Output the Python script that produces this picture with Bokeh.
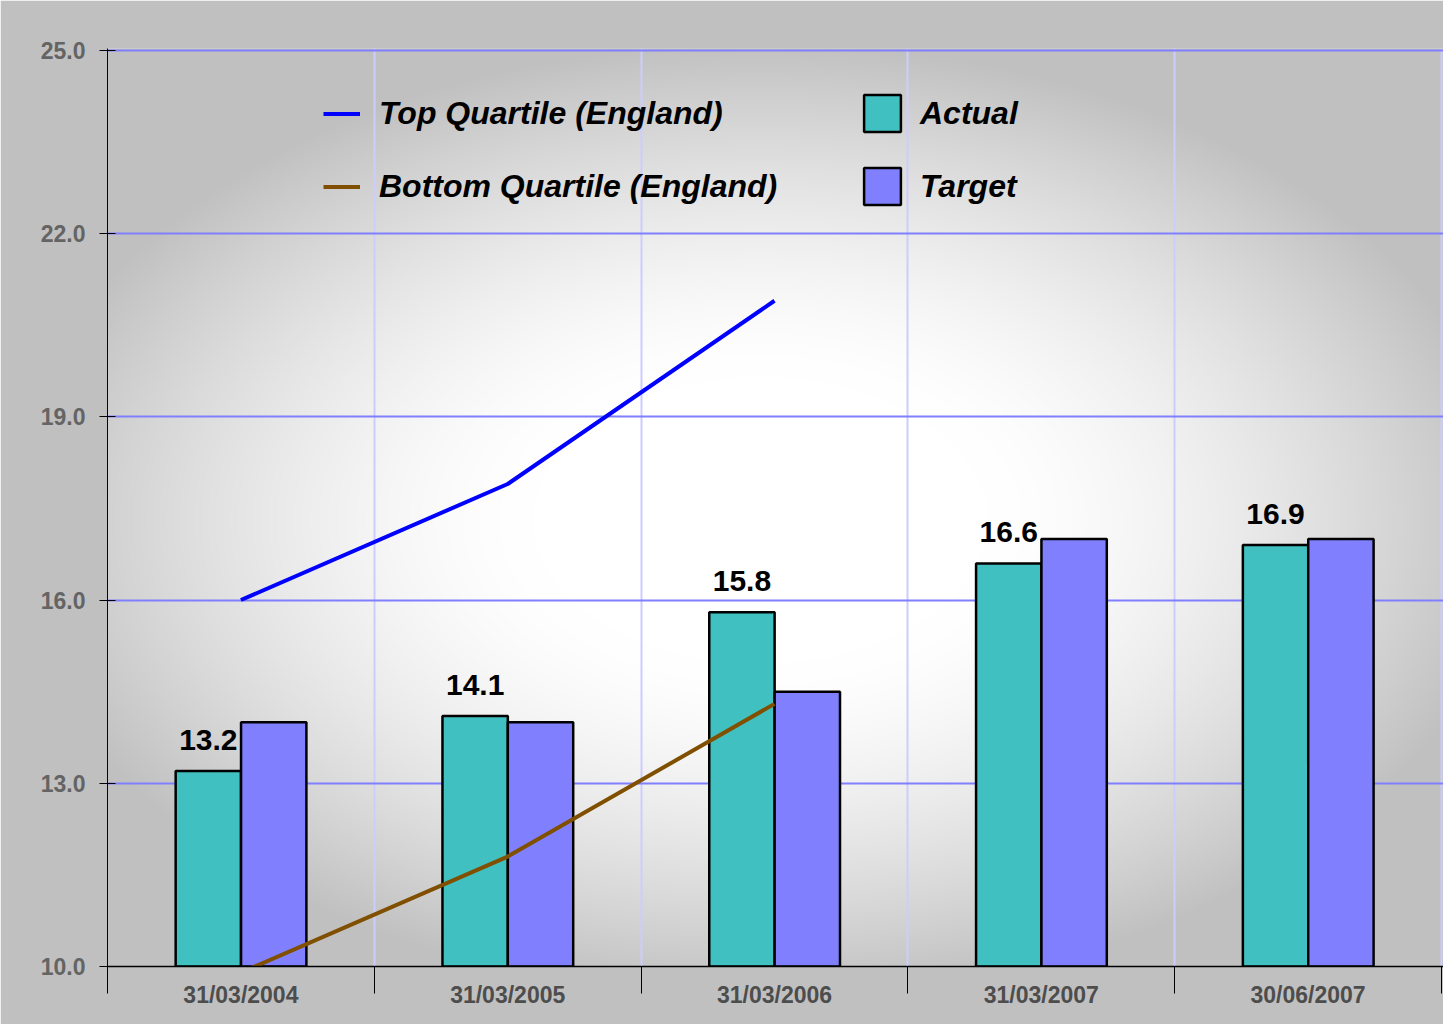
import numpy as np
from bokeh.plotting import figure
from bokeh.models import (FixedTicker, PrintfTickFormatter, Legend, LegendItem,
                          ColumnDataSource)
from bokeh.core.properties import value
from bokeh.embed import file_html
from bokeh.resources import INLINE

# ---------------- data ----------------
categories = ["31/03/2004", "31/03/2005", "31/03/2006", "31/03/2007", "30/06/2007"]
actual = [13.2, 14.1, 15.8, 16.6, 16.9]
target = [14.0, 14.0, 14.5, 17.0, 17.0]
top_quartile = [16.0, 17.9, 20.9]
bottom_quartile = [9.9, 11.8, 14.3]
y_ticks = [10, 13, 16, 19, 22, 25]

FONT = "Liberation Sans"
N = len(categories)
X_END = N + 0.0075
Y_END = 25.03

p = figure(width=1443, height=1024, x_range=(0, X_END), y_range=(10, Y_END),
           output_backend="svg", toolbar_location=None,
           min_border_left=107, min_border_right=0,
           min_border_top=48, min_border_bottom=58)
p.outline_line_color = None
p.border_fill_color = "#c0c0c0"
p.background_fill_color = "#c0c0c0"

# ---------------- radial background ----------------
fw, fh = 1336, 918
W, H = fw // 2, fh // 2
jj = (np.arange(W) + 0.5) / W * fw
ii = (np.arange(H) + 0.5) / H * fh
X, Y = np.meshgrid(107 + jj, 966 - ii)
d = np.sqrt(((X - 760) / 760) ** 2 + ((Y - 520) / 480) ** 2)
t = np.clip((d - 0.3) / 0.7, 0, 1) ** 1.5
g = (255 - 63 * t).astype(np.uint8)
img = np.empty((H, W), dtype=np.uint32)
view = img.view(dtype=np.uint8).reshape((H, W, 4))
view[..., 0] = g
view[..., 1] = g
view[..., 2] = g
view[..., 3] = 255
p.image_rgba(image=[img], x=0, y=10, dw=X_END, dh=Y_END - 10, level="image")

# ---------------- bars ----------------
xc = [i + 0.5 for i in range(N)]
src = ColumnDataSource(dict(
    xa=[x - 0.122 for x in xc],
    xt=[x + 0.123 for x in xc],
    actual=actual,
    target=target,
    lab=[f"{v:.1f}" for v in actual],
))
ra = p.vbar(x="xa", top="actual", bottom=10, width=0.245, source=src,
            fill_color="#40c0c0", line_color="black", line_width=2.5)
rt = p.vbar(x="xt", top="target", bottom=10, width=0.245, source=src,
            fill_color="#8080ff", line_color="black", line_width=2.5)

p.text(x="xa", y="actual", text="lab", source=src, text_align="center",
       text_baseline="alphabetic", y_offset=-31, text_font=value(FONT),
       text_font_style="bold", text_font_size="30px", text_color="black")

# ---------------- lines ----------------
rtop = p.line(x=xc[:len(top_quartile)], y=top_quartile, line_color="#0000ff", line_width=4)
rbot = p.line(x=xc[:len(bottom_quartile)], y=bottom_quartile, line_color="#805000", line_width=4)

# ---------------- axes ----------------
xa = p.xaxis[0]
xa.ticker = FixedTicker(ticks=xc, minor_ticks=list(range(N + 1)))
xa.major_label_overrides = {x: c for x, c in zip(xc, categories)}
xa.major_tick_line_color = None
xa.major_tick_out = 0
xa.major_tick_in = 0
xa.minor_tick_line_color = "black"
xa.minor_tick_out = 27
xa.minor_tick_in = 0
xa.minor_tick_line_width = 1
xa.axis_line_color = "black"
xa.axis_line_width = 1.5
xa.major_label_text_font = FONT
xa.major_label_text_font_style = "bold"
xa.major_label_text_font_size = "23px"
xa.major_label_text_color = "#4d4d4d"
xa.major_label_standoff = -12

ya = p.yaxis[0]
ya.ticker = FixedTicker(ticks=y_ticks)
ya.formatter = PrintfTickFormatter(format="%.1f")
ya.major_tick_in = 8
ya.major_tick_out = 8
ya.major_tick_line_color = "black"
ya.minor_tick_line_color = None
ya.axis_line_color = "#000040"
ya.major_label_text_font = FONT
ya.major_label_text_font_style = "bold"
ya.major_label_text_font_size = "23px"
ya.major_label_text_color = "#646464"
ya.major_label_standoff = 14

p.ygrid.ticker = FixedTicker(ticks=y_ticks)
p.ygrid.grid_line_color = "#8080ff"
p.ygrid.grid_line_width = 2
p.xgrid.ticker = FixedTicker(ticks=list(range(N + 1)))
p.xgrid.grid_line_color = "#ccccff"
p.xgrid.grid_line_width = 2

# ---------------- legends ----------------
def style(leg, gsize, standoff, spacing):
    leg.glyph_width = gsize
    leg.glyph_height = gsize
    leg.label_standoff = standoff
    leg.spacing = spacing
    leg.padding = 0
    leg.margin = 0
    leg.border_line_color = None
    leg.background_fill_alpha = 0
    leg.label_text_font = FONT
    leg.label_text_font_style = "bold italic"
    leg.label_text_font_size = "32px"
    leg.label_text_color = "black"

leg1 = Legend(items=[LegendItem(label="Top Quartile (England)", renderers=[rtop]),
                     LegendItem(label="Bottom Quartile (England)", renderers=[rbot])],
              location=(216, 761.5))
leg2 = Legend(items=[LegendItem(label="Actual", renderers=[ra]),
                     LegendItem(label="Target", renderers=[rt])],
              location=(752, 757))
style(leg1, 37, 19, 36)
style(leg2, 46, 15, 27)
p.add_layout(leg1)
p.add_layout(leg2)

open("out.html", "w").write(file_html(p, INLINE))
